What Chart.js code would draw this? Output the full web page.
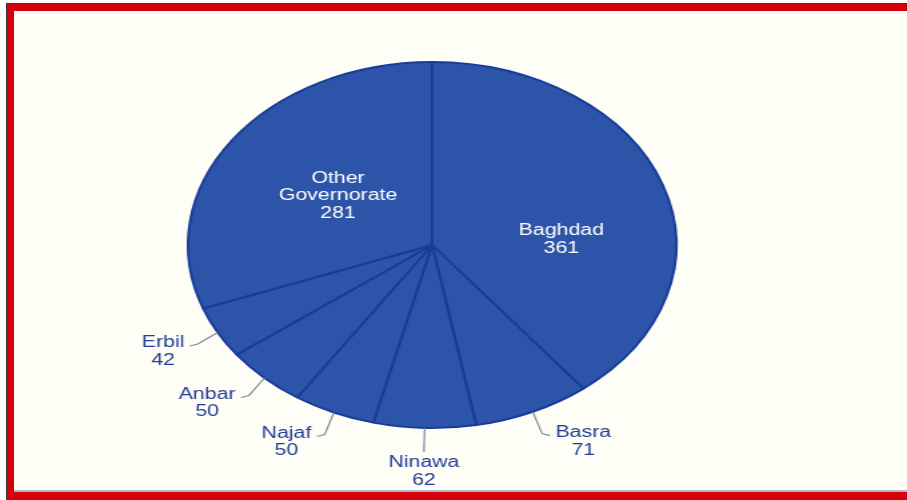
<!DOCTYPE html>
<html>
<head>
<meta charset="utf-8">
<script src="https://cdn.jsdelivr.net/npm/chart.js@4.4.1/dist/chart.umd.min.js"></script>
<style>
    html, body { margin: 0; padding: 0; width: 907px; height: 500px; overflow: hidden; background: #ffffff; }
    #frame { position: absolute; left: 6px; top: 3px; width: 920px; height: 510px; background: #3a3a3a; }
    #red { position: absolute; left: 7px; top: 4px; width: 920px; height: 510px; background: #d6000b; }
    #paper { position: absolute; left: 14px; top: 11px; width: 900px; height: 479px; background: #fffef6; border-bottom: 2px solid #b9b6c4; }
    /* the reference is stretched sideways, so the chart is drawn narrow and scaled */
    #wrap { position: absolute; left: 0; top: 0; width: 680px; height: 500px; transform: scaleX(1.3338); transform-origin: 0 0; }
</style>
</head>
<body>
<div id="frame"></div>
<div id="red"></div>
<div id="paper"></div>
<div id="wrap"><canvas id="grafico-gobernaciones"></canvas></div>
<script>
// Chart labels
const labels = ['Baghdad', 'Basra', 'Ninawa', 'Najaf', 'Anbar', 'Erbil', 'Other Governorate'];
// Chart data
const values = [361, 71, 62, 50, 50, 42, 281];

// draws the value labels, inside for big slices, outside with a leader for small ones
const sliceLabels = {
    id: 'sliceLabels',
    afterDatasetsDraw(chart, args, opts) {
        const ctx = chart.ctx;
        const meta = chart.getDatasetMeta(0);
        const data = chart.data.datasets[0].data;
        const lh = opts.lineHeight;
        ctx.save();
        ctx.font = opts.font;
        ctx.textBaseline = 'middle';
        ctx.textAlign = 'center';
        meta.data.forEach(function(arc, i) {
            const p = arc.getProps(['x', 'y', 'startAngle', 'endAngle', 'outerRadius']);
            const lines = chart.data.labels[i].split(' ').concat(String(data[i]));
            const mid = (p.startAngle + p.endAngle) / 2;

            if (data[i] >= opts.insideMin) {
                const s = opts.shift[i] || {};
                const a = mid + (s.angle || 0) * Math.PI / 180;
                const r = p.outerRadius * (s.radius || opts.insideRadius);
                const cx = p.x + r * Math.cos(a);
                const cy = p.y + r * Math.sin(a);
                ctx.fillStyle = opts.insideColor;
                lines.forEach(function(t, k) {
                    ctx.fillText(t, cx, cy + (k - (lines.length - 1) / 2) * lh);
                });
                return;
            }

            const cos = Math.cos(mid), sin = Math.sin(mid);
            const x0 = p.x + p.outerRadius * cos, y0 = p.y + p.outerRadius * sin;
            // leaders drop a bit steeper than the radius
            const x1 = x0 + opts.leaderX * cos;
            const y1 = y0 + opts.leaderY * sin;
            ctx.strokeStyle = opts.leaderColor;
            ctx.lineWidth = 1.2;
            ctx.beginPath();
            ctx.moveTo(x0, y0);
            ctx.lineTo(x1, y1);
            const w = Math.max.apply(null, lines.map(function(t) { return ctx.measureText(t).width; }));
            let tx, ty;
            if (Math.abs(cos) > 0.15) {
                const side = Math.sign(cos);
                const x2 = x1 + side * opts.hook, y2 = y1 + 2;
                ctx.lineTo(x2, y2);
                tx = x2 + side * (4 + w / 2);
                ty = y2 - 3;
            } else {
                tx = x1;
                ty = y1 + 11;
            }
            ctx.stroke();
            ctx.fillStyle = opts.outsideColor;
            lines.forEach(function(t, k) {
                ctx.fillText(t, tx, ty + k * lh);
            });
        });
        ctx.restore();
    }
};

const ctx = document.getElementById('grafico-gobernaciones');
const config = {
    type: 'pie',
    data: {
        labels: labels,
        datasets: [{
            data: values,
            backgroundColor: '#2c55a9',
            borderColor: '#1a3c98',
            borderWidth: 2
        }]
    },
    options: {
        responsive: true,
        maintainAspectRatio: false,
        animation: false,
        events: [],
        layout: { padding: { top: 61, bottom: 71, left: 140, right: 172 } },
        plugins: {
            legend: { display: false },
            title: { display: false },
            tooltip: { enabled: false },
            sliceLabels: {
                font: '16px "Liberation Sans", Arial, sans-serif',
                lineHeight: 17.5,
                insideMin: 200,
                insideRadius: 0.47,
                shift: { 0: { angle: 16, radius: 0.53 } },
                insideColor: '#ffffff',
                outsideColor: '#213c94',
                leaderColor: '#7f88a8',
                leaderX: 17,
                leaderY: 24,
                hook: 6
            }
        }
    },
    plugins: [sliceLabels]
};
new Chart(ctx, config);
</script>
</body>
</html>
